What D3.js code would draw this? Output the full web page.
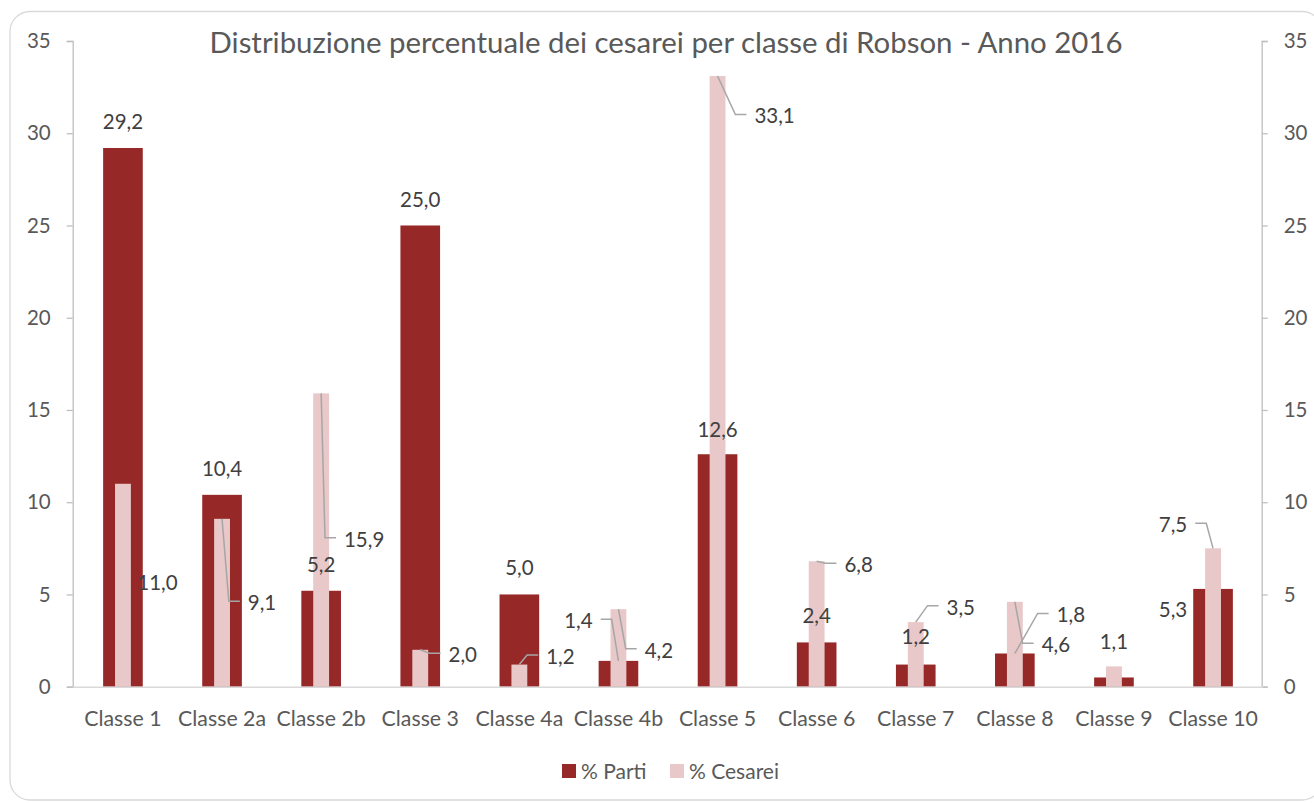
<!DOCTYPE html>
<html><head><meta charset="utf-8">
<script src="https://cdn.jsdelivr.net/npm/d3@7"></script>
<style>
body{margin:0;background:#fff}
svg{display:block}
text{font-family:Lato,"Open Sans",sans-serif}
</style>
</head><body>
<svg id="chart" width="1314" height="803"></svg>
<script>
// ---------------- data ----------------
const categories = ["Classe 1","Classe 2a","Classe 2b","Classe 3","Classe 4a","Classe 4b","Classe 5","Classe 6","Classe 7","Classe 8","Classe 9","Classe 10"];
const parti   = [29.2, 10.4, 5.2, 25.0, 5.0, 1.4, 12.6, 2.4, 1.2, 1.8, 0.5, 5.3];
const cesarei = [11.0,  9.1, 15.9, 2.0, 1.2, 4.2, 33.1, 6.8, 3.5, 4.6, 1.1, 7.5];
const partiLabelShown = [true,true,true,true,true,true,true,true,true,true,false,true];
const yTicks = [0, 5, 10, 15, 20, 25, 30, 35];
const seriesNames = ["% Parti", "% Cesarei"];
const title = "Distribuzione percentuale dei cesarei per classe di Robson - Anno 2016";

// ---------------- layout / style ----------------
// label placement: offset of label centre from bar-top centre [dx, dy, leader]
const partiLabelLayout = [[0,-26,0],[0,-26,0],[0,-26,0],[0,-26,0],[0,-27,0],[-40,-40,1],
  [0,-25,0],[0,-27,0],[0,-28,0],[56,-38.5,1],[0,-26,0],[-40,21,0]];
const cesareiLabelLayout = [[34.5,99,0],[40,84,1],[43,146,1],[42.5,5,1],[41,-8,1],[40.5,41,1],
  [57,40,1],[42,3.5,1],[45,-15,1],[41,43,1],[0,-25,0],[-40,-23.5,1]];

const colParti = "#962828", colCes = "#E8C8C8";
const plot = {left: 73.4, right: 1262.6, top: 41, bottom: 686.7};
const fontTick = 20.5, fontCat = 21.3, fontLabel = 20.5, fontTitle = 29.4, fontLegend = 21;

const svg = d3.select("#chart");

// chart border
svg.append("rect").attr("x", 10).attr("y", 11.5).attr("width", 1312).attr("height", 788.5)
  .attr("rx", 20).attr("fill", "#fff").attr("stroke", "#d9d9d9").attr("stroke-width", 1.3);

const x = d3.scaleBand().domain(categories).range([plot.left, plot.right])
  .paddingInner(0.6).paddingOuter(0.3);
const x2 = d3.scaleBand().domain(categories).range([plot.left, plot.right])
  .paddingInner(0.84).paddingOuter(0.42);
const y = d3.scaleLinear().domain([0, 35]).range([plot.bottom, plot.top]);
const y2 = d3.scaleLinear().domain([0, 35]).range([plot.bottom, plot.top]);

// title
svg.append("text").attr("x", 666).attr("y", 53).attr("text-anchor", "middle")
  .attr("font-size", fontTitle).attr("fill", "#595959").text(title);

// left axis
const gL = svg.append("g").attr("transform", `translate(${plot.left - 0.7},0)`)
  .call(d3.axisLeft(y).tickValues(yTicks).tickSize(6).tickPadding(16).tickFormat(d3.format("d")));
// right axis
const gR = svg.append("g").attr("transform", `translate(${plot.right - 0.9},0)`)
  .call(d3.axisRight(y2).tickValues(yTicks).tickSize(6).tickPadding(16).tickFormat(d3.format("d")));
[gL, gR].forEach(g => {
  g.select(".domain").attr("stroke", "#bfbfbf").attr("stroke-width", 1.3);
  g.selectAll(".tick line").attr("stroke", "#bfbfbf").attr("stroke-width", 1.3);
  g.selectAll(".tick text").attr("font-size", fontTick).attr("fill", "#595959")
    .attr("font-family", "Lato");
});

// bars
svg.append("g").selectAll("rect").data(categories).join("rect")
  .attr("x", d => x(d)).attr("width", x.bandwidth())
  .attr("y", (d, i) => y(parti[i])).attr("height", (d, i) => y(0) - y(parti[i]))
  .attr("fill", colParti);
svg.append("g").selectAll("rect").data(categories).join("rect")
  .attr("x", d => x2(d)).attr("width", x2.bandwidth())
  .attr("y", (d, i) => y2(cesarei[i])).attr("height", (d, i) => y2(0) - y2(cesarei[i]))
  .attr("fill", colCes);

// bottom axis (category)
const gB = svg.append("g").attr("transform", `translate(0,${plot.bottom})`)
  .call(d3.axisBottom(x).tickSize(0).tickPadding(24));
gB.select(".domain").attr("stroke", "#d9d9d9").attr("stroke-width", 1.5);
gB.selectAll(".tick text").attr("font-size", fontCat).attr("fill", "#595959")
  .attr("font-family", "Lato");

// data labels with leader lines
const fmt = v => d3.format(".1f")(v).replace(".", ",");
const labelsG = svg.append("g");
const leadersG = svg.insert("g", () => labelsG.node());
function addLabel(cx, top, value, lay) {
  const [dx, dy, leader] = lay;
  const lx = cx + dx, ly = top + dy;
  const t = labelsG.append("text").attr("x", lx).attr("y", ly).attr("dy", "0.36em")
    .attr("text-anchor", "middle").attr("font-size", fontLabel).attr("fill", "#404040")
    .text(fmt(value));
  if (leader) {
    const w = t.node().getComputedTextLength();
    const side = dx >= 0 ? 1 : -1;
    const edge = lx - side * w / 2;
    const hEnd = edge - side * 8, hStart = hEnd - side * 11;
    const hy = ly - 1.5;
    leadersG.append("path")
      .attr("d", `M${cx},${top}L${hStart},${hy}L${hEnd},${hy}`)
      .attr("fill", "none").attr("stroke", "#a6a6a6").attr("stroke-width", 1.5);
  }
}
categories.forEach((c, i) => {
  if (partiLabelShown[i]) addLabel(x(c) + x.bandwidth() / 2, y(parti[i]), parti[i], partiLabelLayout[i]);
  addLabel(x2(c) + x2.bandwidth() / 2, y2(cesarei[i]), cesarei[i], cesareiLabelLayout[i]);
});

// legend
const legend = svg.append("g");
const legItems = [{name: seriesNames[0], col: colParti, x: 562}, {name: seriesNames[1], col: colCes, x: 670}];
legItems.forEach(it => {
  legend.append("rect").attr("x", it.x).attr("y", 764).attr("width", 14).attr("height", 14).attr("fill", it.col);
  legend.append("text").attr("x", it.x + 19).attr("y", 771).attr("dy", "0.36em")
    .attr("font-size", fontLegend).attr("fill", "#595959").text(it.name);
});
</script>
</body></html>
